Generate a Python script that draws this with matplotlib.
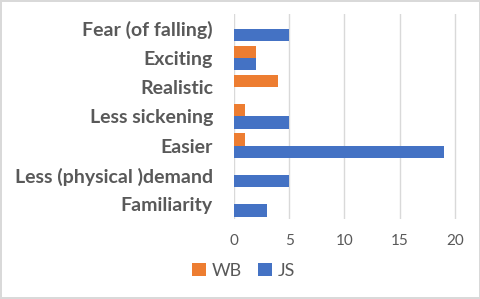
import matplotlib
matplotlib.use("Agg")
import matplotlib.pyplot as plt
import numpy as np

categories = ["Fear (of falling)", "Exciting", "Realistic", "Less sickening",
              "Easier", "Less (physical )demand", "Familiarity"]
wb_values = [0, 2, 4, 1, 1, 0, 0]
js_values = [5, 2, 0, 5, 19, 5, 3]
x_ticks = [0, 5, 10, 15, 20]

ORANGE = "#ED7D31"
BLUE = "#4472C4"
TEXT = "#595959"

plt.rcParams["font.family"] = ["Lato", "DejaVu Sans"]

fig = plt.figure(figsize=(4.81, 2.99), dpi=100)
fig.patch.set_edgecolor("#d9d9d9")
fig.patch.set_linewidth(1.5)
ax = fig.add_axes([0.486, 0.268, 0.465, 0.685])

y = np.arange(len(categories))
h = 0.425
ax.barh(y - h / 2, wb_values, height=h, color=ORANGE, label="WB")
ax.barh(y + h / 2, js_values, height=h, color=BLUE, label="JS")

ax.set_ylim(len(categories) - 0.5, -0.5)
ax.set_xlim(0, 20.2)
ax.set_xticks(x_ticks)
ax.set_yticks(y)
ax.set_yticklabels(categories, fontsize=14, fontweight="bold", color=TEXT)
ax.tick_params(axis="x", labelsize=11, colors=TEXT, length=0, pad=11)
ax.tick_params(axis="y", length=0, pad=15)

ax.grid(axis="x", color="#d9d9d9", linewidth=1)
ax.set_axisbelow(True)
for s in ax.spines.values():
    s.set_visible(False)

leg = fig.legend(loc="center", bbox_to_anchor=(0.507, 0.095), ncol=2, frameon=False,
                 fontsize=13, handlelength=0.75, handleheight=0.75, handletextpad=0.35,
                 columnspacing=0.9)
for t in leg.get_texts():
    t.set_color(TEXT)

fig.savefig("out.png", dpi=100)
